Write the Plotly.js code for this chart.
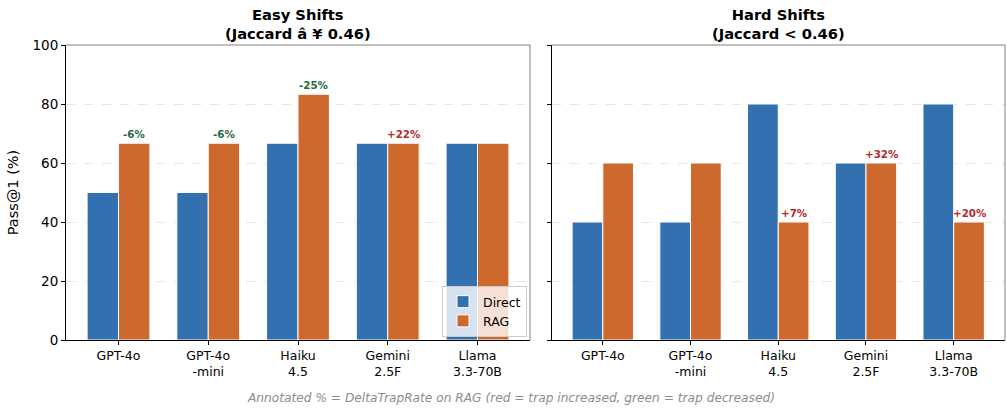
<!DOCTYPE html>
<html><head><meta charset="utf-8">
<script src="https://cdn.plot.ly/plotly-3.0.1.min.js"></script>
<style>body{margin:0;background:#fff}#c{width:1007px;height:410px}</style>
</head><body><div id="c"></div>
<script>
const categories = ["GPT-4o", "GPT-4o<br>-mini", "Haiku<br>4.5", "Gemini<br>2.5F", "Llama<br>3.3-70B"];
const easyDirect = [50, 50, 66.7, 66.7, 66.7];
const easyRAG = [66.7, 66.7, 83.3, 66.7, 66.7];
const hardDirect = [40, 40, 80, 60, 80];
const hardRAG = [60, 60, 40, 60, 40];
const easyDelta = ["-6%", "-6%", "-25%", "+22%", ""];
const hardDelta = ["", "", "+7%", "+32%", "+20%"];
const yTicks = [0, 20, 40, 60, 80, 100];
const panelTitles = ["Easy Shifts<br>(Jaccard â ¥ 0.46)", "Hard Shifts<br>(Jaccard < 0.46)"];
const footer = "Annotated % = DeltaTrapRate on RAG (red = trap increased, green = trap decreased)";

const BLUE = "#3370AF", ORANGE = "#CD692C", GREEN = "#1F6B3D", RED = "#B22A2A";
const FONT = "DejaVu Sans";
const idx = categories.map((_, i) => i);
const W = 0.35;

function bars(vals, name, color, xa, ya, offset, show) {
  return {type: "bar", x: idx, y: vals, name: name, width: W, offset: offset,
    marker: {color: color, line: {color: "#ffffff", width: 1}},
    xaxis: xa, yaxis: ya, showlegend: show, hoverinfo: "y"};
}
const data = [
  bars(easyDirect, "Direct", BLUE, "x", "y", -W, true),
  bars(easyRAG, "RAG", ORANGE, "x", "y", 0, true),
  bars(hardDirect, "Direct", BLUE, "x2", "y2", -W, false),
  bars(hardRAG, "RAG", ORANGE, "x2", "y2", 0, false)
];

const annotations = [];
function deltas(labels, vals, xr, yr) {
  labels.forEach((t, i) => {
    if (!t) return;
    annotations.push({x: i + W / 2, y: vals[i], xref: xr, yref: yr, text: "<b>" + t + "</b>",
      showarrow: false, xanchor: "center", yanchor: "bottom", yshift: 1,
      font: {family: FONT, size: 10.3, color: t[0] === "-" ? GREEN : RED}});
  });
}
deltas(easyDelta, easyRAG, "x", "y");
deltas(hardDelta, hardRAG, "x2", "y2");

const dom1 = [66 / 1007, 530 / 1007], dom2 = [551.5 / 1007, 1005 / 1007];
const ydom = [70 / 410, 365 / 410];
[dom1, dom2].forEach((d, k) => {
  annotations.push({x: (d[0] + d[1]) / 2, y: 1 - 44 / 410, xref: "paper", yref: "paper",
    text: "<b>" + panelTitles[k] + "</b>", showarrow: false, xanchor: "center", yanchor: "bottom",
    font: {family: FONT, size: 14.7, color: "#000"}});
});
annotations.push({x: 511 / 1007, y: 1 - 398 / 410, xref: "paper", yref: "paper", text: "<i>" + footer + "</i>",
  showarrow: false, xanchor: "center", yanchor: "middle", font: {family: FONT, size: 12.2, color: "#8c8c8c"}});

function xaxis(dom, anchor) {
  return {domain: dom, anchor: anchor, range: [-0.585, 4.585], tickvals: idx, ticktext: categories,
    showline: true, linecolor: "#000", linewidth: 1, ticks: "outside", ticklen: 4, tickcolor: "#000",
    showgrid: false, zeroline: false, tickfont: {family: FONT, size: 12.5, color: "#000"}};
}
function yaxis(anchor, labels) {
  return {domain: ydom, anchor: anchor, range: [0, 100], tickvals: yTicks, showticklabels: labels,
    showline: true, linecolor: "#000", linewidth: 1, ticks: "outside", ticklen: 4, tickcolor: "#000",
    showgrid: true, gridcolor: "#e0e0e0", griddash: "dash", gridwidth: 0.8, zeroline: false,
    tickfont: {family: FONT, size: 13.5, color: "#000"}};
}
const y1 = yaxis("x", true);
y1.title = {text: "Pass@1 (%)", font: {family: FONT, size: 14.5, color: "#000"}, standoff: 10};

const shapes = [];
[["x", "y"], ["x2", "y2"]].forEach(([xa, ya]) => {
  shapes.push({type: "line", xref: xa + " domain", yref: ya + " domain", x0: 0, x1: 1, y0: 1, y1: 1,
    line: {color: "#808080", width: 1}});
  shapes.push({type: "line", xref: xa + " domain", yref: ya + " domain", x0: 1, x1: 1, y0: 0, y1: 1,
    line: {color: "#808080", width: 1}});
});

const layout = {
  width: 1007, height: 410, margin: {l: 0, r: 0, t: 0, b: 0},
  paper_bgcolor: "#fff", plot_bgcolor: "#fff",
  font: {family: FONT, color: "#000"},
  xaxis: xaxis(dom1, "y"), yaxis: y1,
  xaxis2: xaxis(dom2, "y2"), yaxis2: yaxis("x2", false),
  annotations: annotations, shapes: shapes,
  legend: {x: 527 / 1007, xanchor: "right", y: 1 - 337 / 410, yanchor: "bottom",
    bgcolor: "rgba(255,255,255,0.8)", bordercolor: "#cccccc", borderwidth: 1,
    font: {family: FONT, size: 12.5, color: "#000"}, traceorder: "normal"},
  bargap: 0, barmode: "overlay"
};
Plotly.newPlot("c", data, layout, {displayModeBar: false, staticPlot: true});
</script></body></html>
